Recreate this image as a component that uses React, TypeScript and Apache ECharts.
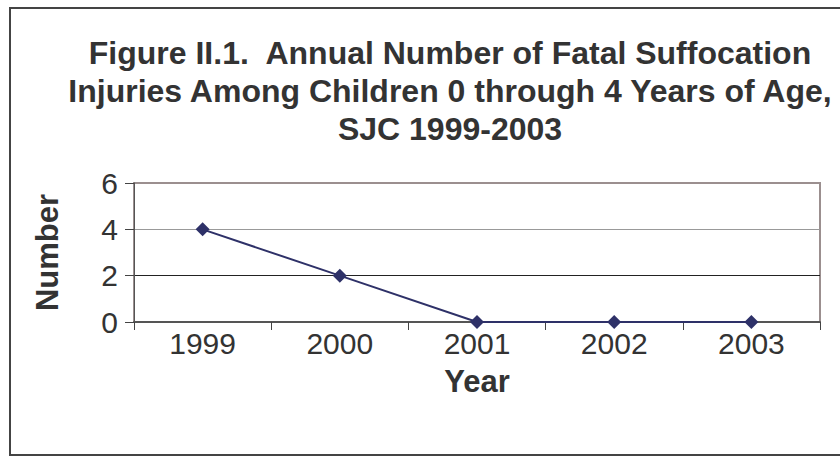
import React, { useEffect, useRef } from "react";
import * as echarts from "echarts";

const years = ["1999", "2000", "2001", "2002", "2003"];
const counts = [4, 2, 0, 0, 0];
const titleLines = [
  "Figure II.1.  Annual Number of Fatal Suffocation",
  "Injuries Among Children 0 through 4 Years of Age,",
  "SJC 1999-2003",
];

const FONT = "'Liberation Sans', Arial, Helvetica, sans-serif";

export default function App() {
  const ref = useRef<HTMLDivElement>(null);
  useEffect(() => {
    if (!ref.current) return;
    const chart = echarts.init(ref.current, null, { renderer: "svg" });
    chart.setOption({
      animation: false,
      backgroundColor: "#ffffff",
      textStyle: { fontFamily: FONT },
      title: {
        text: titleLines.join("\n"),
        left: 445,
        top: 29,
        textAlign: "center",
        textStyle: {
          fontFamily: FONT,
          fontSize: 32,
          fontWeight: "bold",
          color: "#333333",
          lineHeight: 38,
        },
      },
      graphic: [
        {
          type: "rect",
          shape: { x: 10, y: 8, width: 845, height: 447 },
          style: { fill: "none", stroke: "#444444", lineWidth: 2 },
          silent: true,
        },
      ],
      grid: {
        left: 134,
        right: 20,
        top: 183,
        bottom: 135,
        show: true,
        borderColor: "#9b8f8f",
        borderWidth: 2,
        backgroundColor: "transparent",
      },
      xAxis: {
        type: "category",
        data: years,
        boundaryGap: true,
        name: "Year",
        nameLocation: "middle",
        nameGap: 44,
        nameTextStyle: {
          fontFamily: FONT,
          fontSize: 31,
          fontWeight: "bold",
          color: "#333333",
        },
        axisLine: { lineStyle: { color: "#555555", width: 2 } },
        axisTick: { show: true, length: 8, lineStyle: { color: "#444444", width: 1 } },
        axisLabel: { fontFamily: FONT, fontSize: 30, color: "#333333", margin: 6 },
        splitLine: { show: false },
      },
      yAxis: {
        type: "value",
        min: 0,
        max: 6,
        interval: 2,
        name: "Number",
        nameLocation: "middle",
        nameGap: 71,
        nameTextStyle: {
          fontFamily: FONT,
          fontSize: 31,
          fontWeight: "bold",
          color: "#333333",
        },
        axisLine: { show: true, lineStyle: { color: "#555555", width: 1 } },
        axisTick: { show: true, length: 9, lineStyle: { color: "#444444" } },
        axisLabel: { fontFamily: FONT, fontSize: 30, color: "#333333", margin: 16 },
        splitLine: {
          show: true,
          lineStyle: { color: ["#555555", "#222222", "#999999", "#9b8f8f"], width: 1 },
        },
      },
      series: [
        {
          type: "line",
          data: counts,
          symbol: "diamond",
          symbolSize: 14,
          itemStyle: { color: "#2e3168" },
          lineStyle: { color: "#2e3168", width: 2 },
        },
      ],
    });
    return () => chart.dispose();
  }, []);
  return (
    <div
      ref={ref}
      style={{ position: "fixed", left: 0, top: 0, width: 840, height: 457 }}
    />
  );
}
